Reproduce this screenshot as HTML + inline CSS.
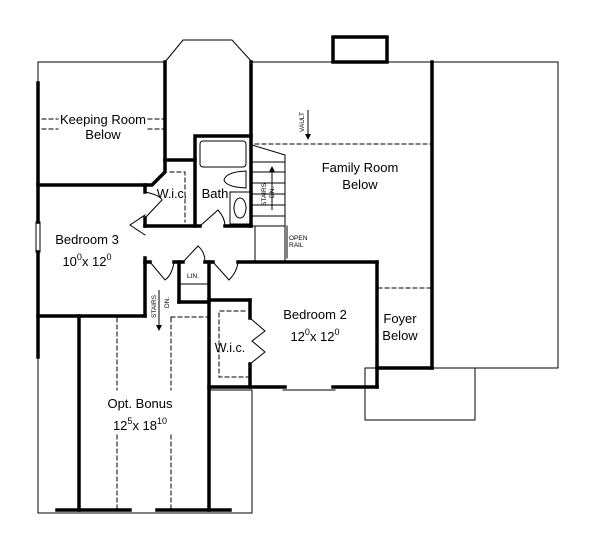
<!DOCTYPE html>
<html><head><style>
html,body{margin:0;padding:0;background:#fff;}
svg{display:block;}
text{font-family:"Liberation Sans",sans-serif;fill:#000;}
</style></head><body>
<svg width="600" height="551" viewBox="0 0 600 551" xmlns="http://www.w3.org/2000/svg">
<g fill="none" stroke="#000" stroke-linecap="square">
<g stroke-width="1">
<line x1="38" y1="62" x2="165" y2="62"/>
<polyline points="165,62 183,40 232,40 252,62"/>
<line x1="252" y1="62" x2="558" y2="62"/>
<line x1="558" y1="62" x2="558" y2="368"/>
<line x1="432" y1="368" x2="558" y2="368"/>
<rect x="365" y="368" width="110" height="52"/>
<line x1="38" y1="62" x2="38" y2="83"/>
<line x1="36" y1="222" x2="36" y2="252"/><line x1="40" y1="222" x2="40" y2="252"/>
<line x1="38" y1="357" x2="38" y2="513"/>
<line x1="38" y1="513" x2="252" y2="513"/>
<line x1="252" y1="390" x2="252" y2="513"/>
<line x1="210" y1="390" x2="252" y2="390"/>
<rect x="200" y="141" width="46" height="26" rx="3"/>
<path d="M224 180 Q226 172 246 171 L246 188 Q226 187 224 180Z"/>
<rect x="230" y="192" width="21" height="32"/>
<ellipse cx="240" cy="208" rx="6" ry="10"/>
<line x1="252" y1="145" x2="285" y2="155"/>
<line x1="285" y1="155" x2="285" y2="260"/>
<line x1="252" y1="162" x2="285" y2="162"/><line x1="252" y1="172" x2="285" y2="172"/>
<line x1="252" y1="183" x2="285" y2="183"/><line x1="252" y1="194" x2="285" y2="194"/>
<line x1="252" y1="205" x2="285" y2="205"/><line x1="252" y1="216" x2="285" y2="216"/>
<line x1="252" y1="226" x2="285" y2="226"/>
<line x1="255" y1="226" x2="255" y2="262"/>
<line x1="287" y1="226" x2="287" y2="258"/>
<line x1="179" y1="284" x2="209" y2="284"/>
<line x1="179" y1="302" x2="209" y2="302"/>
<line x1="283" y1="390" x2="335" y2="390"/>
<line x1="130" y1="513" x2="157" y2="513"/>
</g>
<g stroke-width="1" stroke-dasharray="4,3">
<line x1="42" y1="119" x2="58" y2="119"/><line x1="148" y1="119" x2="163" y2="119"/>
<line x1="42" y1="129" x2="58" y2="129"/><line x1="148" y1="129" x2="163" y2="129"/>
<line x1="255" y1="144" x2="432" y2="144"/>
<line x1="378" y1="288" x2="432" y2="288"/>
<line x1="117" y1="318" x2="117" y2="390"/><line x1="171" y1="318" x2="171" y2="390"/>
<line x1="171" y1="317" x2="208" y2="317"/>
<line x1="117" y1="435" x2="117" y2="510"/><line x1="171" y1="435" x2="171" y2="510"/>
<polyline points="245,311 219,311 219,377 248,377"/>
<polyline points="170,172 185,172 185,222"/>
</g>
<g stroke-width="3.5">
<line x1="38" y1="83" x2="38" y2="222"/>
<line x1="38" y1="252" x2="38" y2="357"/>
<polyline points="38,185 152,185 165,172 165,62"/>
<line x1="165" y1="160" x2="195" y2="160"/>
<polyline points="195,226 195,136 251,136 251,62"/>
<line x1="251" y1="136" x2="251" y2="226"/>
<line x1="145" y1="226" x2="200" y2="226"/>
<line x1="225" y1="226" x2="251" y2="226"/>
<line x1="145" y1="185" x2="145" y2="192"/>
<line x1="145" y1="218" x2="145" y2="226"/>
<line x1="145" y1="258" x2="145" y2="316"/>
<line x1="38" y1="316" x2="145" y2="316"/>
<line x1="79" y1="316" x2="79" y2="510"/>
<line x1="57" y1="510" x2="130" y2="510"/>
<line x1="157" y1="510" x2="230" y2="510"/>
<line x1="179" y1="262" x2="179" y2="302"/>
<line x1="209" y1="262" x2="209" y2="510"/>
<line x1="145" y1="262" x2="150" y2="262"/>
<line x1="174" y1="262" x2="183" y2="262"/>
<line x1="205" y1="262" x2="213" y2="262"/>
<line x1="238" y1="262" x2="377" y2="262"/>
<line x1="179" y1="302" x2="209" y2="302"/>
<line x1="209" y1="300" x2="250" y2="300"/>
<line x1="250" y1="300" x2="250" y2="318"/>
<line x1="250" y1="364" x2="250" y2="387"/>
<line x1="209" y1="387" x2="285" y2="387"/>
<line x1="333" y1="387" x2="377" y2="387"/>
<line x1="377" y1="262" x2="377" y2="387"/>
<line x1="432" y1="62" x2="432" y2="368"/>
<line x1="377" y1="368" x2="432" y2="368"/>
<rect x="333" y="37" width="54" height="25"/>
</g>
<g stroke-width="1">
<path d="M145 218 L162 200 M145 192 Q160 195 162 200"/>
<path d="M145 235 L130 225 L145 215"/>
<path d="M150 262 L165 280 Q172 275 174 262"/>
<path d="M183 262 L198 246 Q205 252 205 262"/>
<path d="M213 262 L229 280 Q237 272 238 262"/>
<path d="M200 226 L218 210 Q225 218 225 226"/>
<path d="M250 318 L265 331 L252 341 L265 352 L250 364"/>
</g>
</g>
<g stroke="#000" stroke-width="1">
<line x1="308" y1="110" x2="308" y2="138"/>
<line x1="272" y1="168" x2="272" y2="210"/>
<line x1="159" y1="290" x2="159" y2="328"/>
</g>
<polygon points="305,134 311,134 308,140" fill="#000"/>
<polygon points="269,172 275,172 272,166" fill="#000"/>
<polygon points="156,325 162,325 159,331" fill="#000"/>
<g font-size="13">
<text x="103" y="124" text-anchor="middle">Keeping Room</text>
<text x="103" y="139" text-anchor="middle">Below</text>
<text x="172" y="198" text-anchor="middle" font-size="12.5">W.i.c.</text>
<text x="215" y="198" text-anchor="middle">Bath</text>
<text x="87" y="244" text-anchor="middle">Bedroom 3</text>
<text x="87" y="266" text-anchor="middle">10<tspan font-size="9" dy="-6">0</tspan><tspan dy="6">x 12</tspan><tspan font-size="9" dy="-6">0</tspan></text>
<text x="360" y="172" text-anchor="middle">Family Room</text>
<text x="360" y="189" text-anchor="middle">Below</text>
<text x="315" y="319" text-anchor="middle">Bedroom 2</text>
<text x="315" y="341" text-anchor="middle">12<tspan font-size="9" dy="-6">0</tspan><tspan dy="6">x 12</tspan><tspan font-size="9" dy="-6">0</tspan></text>
<text x="400" y="323" text-anchor="middle">Foyer</text>
<text x="400" y="340" text-anchor="middle">Below</text>
<text x="230" y="352" text-anchor="middle" font-size="12.5">W.i.c.</text>
<text x="140" y="408" text-anchor="middle">Opt. Bonus</text>
<text x="140" y="430" text-anchor="middle">12<tspan font-size="9" dy="-6">5</tspan><tspan dy="6">x 18</tspan><tspan font-size="9" dy="-6">10</tspan></text>
</g>
<g font-size="6.5">
<text x="289" y="240">OPEN</text>
<text x="289" y="247">RAIL</text>
<text x="187" y="278">LIN.</text>
<text transform="translate(304,132) rotate(-90)">VAULT</text>
<text transform="translate(266,206) rotate(-90)">STAIRS</text>
<text transform="translate(274,198) rotate(-90)">DN.</text>
<text transform="translate(156,318) rotate(-90)">STAIRS</text>
<text transform="translate(169,308) rotate(-90)">DN.</text>
</g>
</svg>
</body></html>
